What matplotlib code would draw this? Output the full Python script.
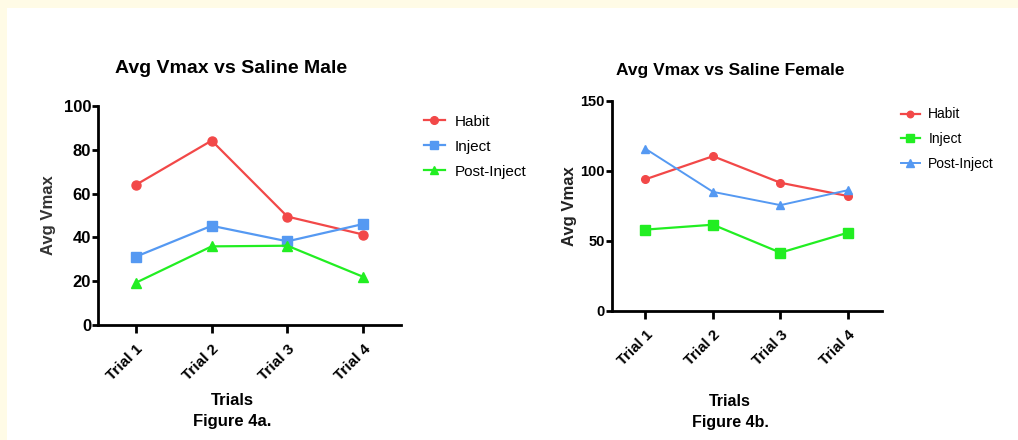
import matplotlib
matplotlib.use('Agg')
import matplotlib.pyplot as plt
from matplotlib.patches import Rectangle

plt.rcParams['font.family'] = ['Liberation Sans', 'DejaVu Sans']

trials = ['Trial 1', 'Trial 2', 'Trial 3', 'Trial 4']

# Figure 4a - male
male_habit = [64, 84.2, 49.5, 41.3]
male_inject = [31.2, 45.3, 38.2, 46.1]
male_post = [19.3, 35.9, 36.2, 22.0]

# Figure 4b - female
female_habit = [94, 110.5, 91.5, 82]
female_inject = [58, 61.5, 41.5, 55.8]
female_post = [115.8, 85, 75.5, 86.2]

red = '#F24848'
blue = '#5599F2'
green = '#22EE22'

fig = plt.figure(figsize=(10.18, 4.4), dpi=100)
fig.patch.set_facecolor('#FFFBE6')
fig.patches.append(Rectangle((7 / 1018, 0), 1, 1 - 8 / 440, transform=fig.transFigure,
                             facecolor='white', edgecolor='none', zorder=-10))


def setup(ax, ymax, ystep, fs, yfs):
    x = range(len(trials))
    ax.set_xlim(-0.5, 3.5)
    ax.set_ylim(0, ymax)
    ax.set_yticks(range(0, ymax + 1, ystep))
    ax.set_xticks(list(x))
    ax.set_xticklabels(trials, rotation=45, ha='right', rotation_mode='anchor',
                       fontweight='bold', fontsize=fs)
    for lab in ax.get_yticklabels():
        lab.set_fontweight('bold')
        lab.set_fontsize(yfs)
    ax.spines['top'].set_visible(False)
    ax.spines['right'].set_visible(False)
    ax.spines['left'].set_linewidth(2)
    ax.spines['bottom'].set_linewidth(2)
    ax.tick_params(width=2, length=5)
    ax.tick_params(axis='x', length=6, pad=6)
    ax.tick_params(axis='y', length=4, pad=1)
    ax.set_facecolor('none')


# left plot
ax1 = fig.add_axes([0.0963, 0.2614, 0.2976, 0.4977])
x = range(len(trials))
ax1.plot(x, male_habit, color=red, marker='o', ms=6.5, lw=1.6, label='Habit')
ax1.plot(x, male_inject, color=blue, marker='s', ms=6.5, lw=1.6, label='Inject')
ax1.plot(x, male_post, color=green, marker='^', ms=6.5, lw=1.6, label='Post-Inject')
setup(ax1, 100, 20, 11, 12)
ax1.set_ylabel('Avg Vmax', fontsize=12, fontweight='bold', color='#333333')
ax1.yaxis.set_label_coords(-0.139, 0.5)
ax1.set_title('Avg Vmax vs Saline Male', fontsize=14, fontweight='bold', pad=24,
              x=(231 - 98) / 303)
ax1.legend(loc='upper left', bbox_to_anchor=(410 / 1018, 1 - 101 / 440),
           bbox_transform=fig.transFigure, frameon=False, fontsize=11,
           handlelength=1.4, labelspacing=0.72, handletextpad=0.6, markerscale=0.85)
fig.text(232 / 1018, 1 - 400 / 440, 'Trials', ha='center', va='center',
         fontsize=12, fontweight='bold')
fig.text(232 / 1018, 1 - 421 / 440, 'Figure 4a.', ha='center', va='center',
         fontsize=12, fontweight='bold')

# right plot
ax2 = fig.add_axes([0.6009, 0.2939, 0.2652, 0.4766])
ax2.plot(x, female_habit, color=red, marker='o', ms=5.5, lw=1.6, label='Habit')
ax2.plot(x, female_inject, color=green, marker='s', ms=6.5, lw=1.6, label='Inject')
ax2.plot(x, female_post, color=blue, marker='^', ms=6, lw=1.4, label='Post-Inject')
setup(ax2, 150, 50, 10.8, 10.5)
ax2.set_ylabel('Avg Vmax', fontsize=12, fontweight='bold', color='#222222')
ax2.yaxis.set_label_coords(-0.130, 0.5)
ax2.set_title('Avg Vmax vs Saline Female', fontsize=12.5, fontweight='bold', pad=19,
              x=(730 - 611.7) / 270)
ax2.legend(loc='upper left', bbox_to_anchor=(888 / 1018, 1 - 95 / 440),
           bbox_transform=fig.transFigure, frameon=False, fontsize=10,
           handlelength=1.4, labelspacing=0.78, handletextpad=0.6, markerscale=0.85)
fig.text(730 / 1018, 1 - 401 / 440, 'Trials', ha='center', va='center',
         fontsize=11.5, fontweight='bold')
fig.text(730 / 1018, 1 - 422 / 440, 'Figure 4b.', ha='center', va='center',
         fontsize=11.5, fontweight='bold')

fig.savefig('out.png', dpi=100, facecolor=fig.get_facecolor())
